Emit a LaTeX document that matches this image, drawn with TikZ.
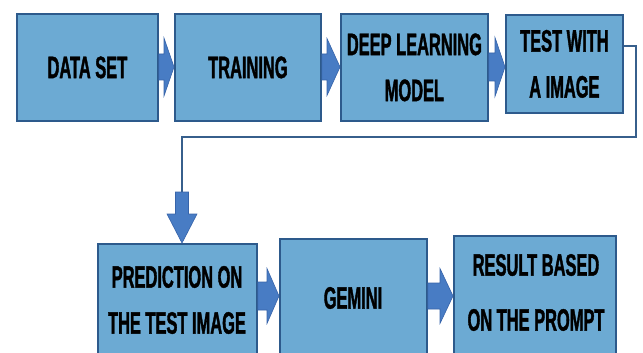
\documentclass[tikz,border=0pt]{standalone}
\usepackage{fontspec}
\newfontfamily\boxfont[FakeStretch=0.53,FakeBold=1.2]{Liberation Sans}
\usetikzlibrary{calc}
\definecolor{boxfill}{RGB}{108,170,211}
\definecolor{boxline}{RGB}{45,90,140}
\definecolor{arrfill}{RGB}{72,124,196}
\definecolor{arrline}{RGB}{55,100,170}
\definecolor{connline}{RGB}{55,95,140}
\newcommand\boxtext{\boxfont\bfseries\fontsize{31}{46}\selectfont}
\tikzset{
 stepbox/.style={draw=boxline, line width=1.8pt, fill=boxfill, inner sep=0pt, anchor=north west, align=center, font=\boxtext},
 labeltext/.style={align=center, font=\boxtext, inner sep=0pt},
 blockarr/.style={fill=arrfill, draw=arrline, line width=0.6pt, line join=miter},
 conn/.style={draw=connline, line width=1.4pt}
}
% #1 from node, #2 to node, #3 row coordinate, #4 shaft half, #5 head half, #6 head length
\newcommand\harrow[6]{%
 \path[blockarr] ($(#1.east |- #3)+(0,-#4)$) -- ($(#2.west |- #3)+(-#6,-#4)$) -- ($(#2.west |- #3)+(-#6,-#5)$) -- (#2.west |- #3) -- ($(#2.west |- #3)+(-#6,#5)$) -- ($(#2.west |- #3)+(-#6,#4)$) -- ($(#1.east |- #3)+(0,#4)$) -- cycle;}
\begin{document}
\begin{tikzpicture}[x=1pt,y=-1pt]
\useasboundingbox (0,0) rectangle (643,353);
\clip (0,0) rectangle (643,353);
\fill[white] (0,0) rectangle (643,353);
% top row
\node[stepbox, minimum width=141pt, minimum height=107pt] (b1) at (16,13) {DATA SET};
\node[stepbox, minimum width=146pt, minimum height=107pt] (b2) at (174,13) {TRAINING};
\node[stepbox, minimum width=147pt, minimum height=107pt] (b3) at (340,13) {DEEP LEARNING\\MODEL};
\node[stepbox, minimum width=117pt, minimum height=98pt] (b4) at (505,14) {TEST WITH\\A IMAGE};
% bottom row
\node[stepbox, minimum width=159pt, minimum height=130pt] (b5) at (97,243) {};
\node[stepbox, minimum width=147pt, minimum height=135pt] (b6) at (279,238) {};
\node[stepbox, minimum width=162pt, minimum height=140pt] (b7) at (453,235) {};
\node[labeltext] (t5) at (177,300) {PREDICTION ON\\THE TEST IMAGE};
\node[labeltext] (t6) at (353,298) {GEMINI};
\node[labeltext, font=\boxfont\bfseries\fontsize{31}{55}\selectfont] (t7) at (536,292.5) {RESULT BASED\\ON THE PROMPT};
% rows
\coordinate (r1) at (0,67);
\coordinate (r2) at (0,296);
\harrow{b1}{b2}{r1}{13}{29}{10}
\harrow{b2}{b3}{r1}{13}{28.5}{13}
\harrow{b3}{b4}{r1}{14}{29.5}{10}
\harrow{b5}{b6}{r2}{14}{27.5}{12}
\harrow{b6}{b7}{r2}{13}{27.5}{13}
% connector
\coordinate (c1) at (636,46);
\coordinate (c2) at (636,137);
\coordinate (c3) at (182,137);
\coordinate (dn) at (182,192);
\coordinate (tip) at (b5.north -| dn);
\draw[conn] (b4.east |- c1) -- (c1) -- (c2) -- (c3) -- (dn);
\path[blockarr] ($(dn)+(-6.5,0)$) -- ($(tip)+(-6.5,-29)$) -- ($(tip)+(-15,-29)$) -- (tip) -- ($(tip)+(15,-29)$) -- ($(tip)+(6.5,-29)$) -- ($(dn)+(6.5,0)$) -- cycle;
\end{tikzpicture}
\end{document}
